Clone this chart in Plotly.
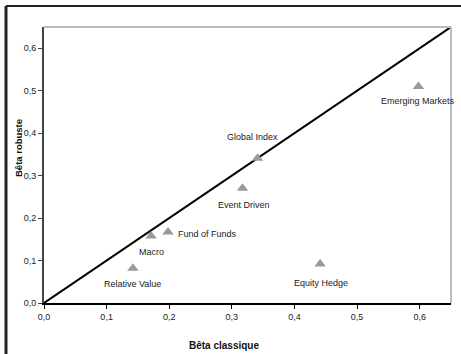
import plotly.graph_objects as go

names = ["Relative Value", "Macro", "Fund of Funds", "Event Driven", "Global Index", "Equity Hedge", "Emerging Markets"]
beta_classique = [0.142, 0.171, 0.198, 0.317, 0.341, 0.441, 0.598]
beta_robuste = [0.082, 0.158, 0.167, 0.270, 0.341, 0.092, 0.510]
diag = [0.0, 0.65]
ticks = [0.0, 0.1, 0.2, 0.3, 0.4, 0.5, 0.6]
x_title = "Bêta classique"
y_title = "Bêta robuste"

# label placement: (xshift, yshift, xanchor)
label_pos = {
    "Relative Value": (0, -16, "center"),
    "Macro": (0, -16, "center"),
    "Fund of Funds": (8, -2, "left"),
    "Event Driven": (2, -17, "center"),
    "Global Index": (-5, 21, "center"),
    "Equity Hedge": (1, -19, "center"),
    "Emerging Markets": (0, -15, "center"),
}

font = "Liberation Sans, Arial, sans-serif"

fig = go.Figure()
fig.add_trace(go.Scatter(x=diag, y=diag, mode="lines",
                         line=dict(color="black", width=2), hoverinfo="skip", showlegend=False, cliponaxis=False))
fig.add_trace(go.Scatter(x=beta_classique, y=beta_robuste, mode="markers",
                         marker=dict(symbol="triangle-up", size=10, color="#999999"),
                         showlegend=False, cliponaxis=False))

for n, x, y in zip(names, beta_classique, beta_robuste):
    xs, ys, xa = label_pos[n]
    fig.add_annotation(x=x, y=y, text=n, showarrow=False, xshift=xs, yshift=ys,
                       xanchor=xa, yanchor="middle",
                       font=dict(family=font, size=9, color="#222222"))

W, H = 461, 354
L, R, T, B = 44, 10, 27, 51
pw, ph = W - L - R, H - T - B

def px(xp):
    return (xp - L) / pw

def py(yp):
    return (H - B - yp) / ph

# axis titles
fig.add_annotation(xref="paper", yref="paper", x=px(224), y=py(345), text="<b>" + x_title + "</b>",
                   showarrow=False, xanchor="center", yanchor="middle",
                   font=dict(family=font, size=10, color="#111111"))
fig.add_annotation(xref="paper", yref="paper", x=px(18), y=py(148), text="<b>" + y_title + "</b>",
                   showarrow=False, xanchor="center", yanchor="middle", textangle=-90,
                   font=dict(family=font, size=9.5, color="#111111"))

# outer chart border (left and top)
fig.add_shape(type="line", xref="paper", yref="paper", x0=px(6), x1=px(461), y0=py(6), y1=py(6),
              line=dict(color="#222222", width=2))
fig.add_shape(type="line", xref="paper", yref="paper", x0=px(6), x1=px(6), y0=py(6), y1=py(354),
              line=dict(color="#222222", width=3))
# plot area top/right borders (gray)
fig.add_shape(type="line", xref="paper", yref="paper", x0=0, x1=1, y0=1, y1=1,
              line=dict(color="#bbbbbb", width=2))
fig.add_shape(type="line", xref="paper", yref="paper", x0=1, x1=1, y0=0, y1=1,
              line=dict(color="#bbbbbb", width=2))

fig.update_layout(
    width=W, height=H,
    margin=dict(l=L, r=R, t=T, b=B),
    paper_bgcolor="white", plot_bgcolor="white",
    separators=", ",
    font=dict(family=font, size=9, color="#222222"),
    xaxis=dict(range=[0, 0.65], tickvals=ticks, tickformat=".1f", showgrid=False, zeroline=False,
               showline=True, linecolor="black", linewidth=2, ticks="outside", ticklen=4,
               tickcolor="black", tickfont=dict(size=9), automargin=False),
    yaxis=dict(range=[0, 0.65], tickvals=ticks, tickformat=".1f", showgrid=False, zeroline=False,
               showline=True, linecolor="#444444", linewidth=2, ticks="outside", ticklen=4,
               tickcolor="#444444", tickfont=dict(size=9), automargin=False),
)

fig.write_html("out.html", config={"displayModeBar": False},
               post_script="document.body.style.margin='0px';document.body.style.overflow='hidden';")
